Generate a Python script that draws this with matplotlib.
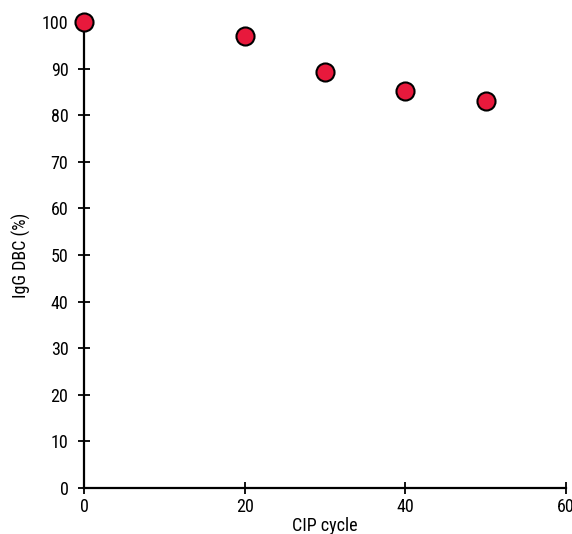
import matplotlib
matplotlib.use("Agg")
import matplotlib.pyplot as plt

cycles = [0, 20, 30, 40, 50]
dbc = [100, 97.0, 89.2, 85.3, 83.0]
xticks = [0, 20, 40, 60]
yticks = [0, 10, 20, 30, 40, 50, 60, 70, 80, 90, 100]

plt.rcParams['font.family'] = ['Roboto Condensed', 'Archivo Narrow', 'DejaVu Sans']

fig = plt.figure(figsize=(5.72, 5.34), dpi=100)
ax = fig.add_axes([0.1469, 0.0861, 0.8426, 0.8727])
ax.plot(cycles, dbc, linestyle='none', marker='o', markersize=13,
        markerfacecolor='#E8193C', markeredgecolor='black', markeredgewidth=1.5,
        clip_on=False, zorder=5)
ax.set_xlim(0, 60)
ax.set_ylim(0, 100)
ax.set_xticks(xticks)
ax.set_yticks(yticks)
for s in ['top', 'right']:
    ax.spines[s].set_visible(False)
for s in ['left', 'bottom']:
    ax.spines[s].set_linewidth(1.6)
ax.tick_params(direction='inout', length=8.5, width=1.3, labelsize=13, pad=3)
ax.tick_params(axis='y', pad=7)
ax.set_xlabel('CIP cycle', fontsize=13, labelpad=1)
ax.set_ylabel('IgG DBC (%)', fontsize=13, labelpad=8)
fig.savefig('out.png', dpi=100)
